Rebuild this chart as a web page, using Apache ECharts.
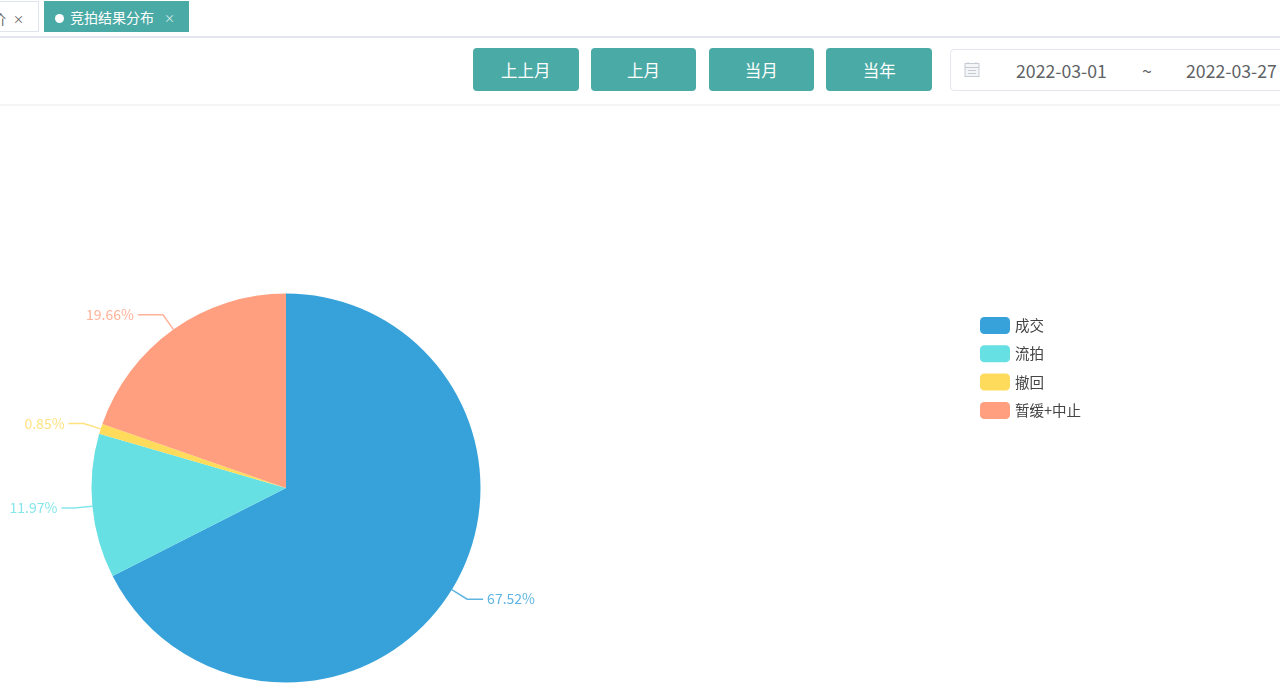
<!DOCTYPE html>
<html>
<head>
<meta charset="utf-8">
<script src="https://cdn.jsdelivr.net/npm/echarts@6/dist/echarts.min.js"></script>
<style>
html, body {margin: 0; padding: 0; width: 1280px; height: 699px; overflow: hidden; background: #fff;
    font-family: "Noto Sans CJK SC", "Noto Sans", sans-serif;}
.tab {position: absolute; top: 1px; height: 31px; line-height: 32px; font-size: 14px; box-sizing: border-box;}
.tab-old {left: -25px; width: 64px; border: 1px solid #e0e4ee; color: #666; background: #fff; padding-left: 16px;}
.tab-on {left: 44px; width: 145px; background: #4aaaa5; color: #fff; padding-left: 26px;}
.tab-on i {position: absolute; left: 11px; top: 13px; width: 9px; height: 9px; border-radius: 50%; background: #fff;}
.tab span {position: absolute; font-size: 11px; top: 1px;}
.tab-old span {left: 37px; color: #555;}
.tab-on span {left: 120px; color: #dfeeee;}
.rule1 {position: absolute; left: 0; top: 36px; width: 1280px; height: 2px; background: #e3e6ef;}
.rule2 {position: absolute; left: 0; top: 104px; width: 1280px; height: 2px; background: #f5f5f5;}
.btn {position: absolute; top: 48px; width: 105.5px; height: 42.5px; line-height: 44px; border-radius: 4px;
    background: #4aaaa5; color: #fff; font-size: 16.5px; text-align: center;}
.range {position: absolute; left: 950px; top: 49px; width: 340px; height: 42px; box-sizing: border-box;
    border: 1px solid #e4e7ed; border-radius: 4px; color: #606266; font-size: 17.7px; line-height: 40px;}
.range b {position: absolute; font-weight: normal;}
.range svg {position: absolute; left: 13px; top: 11px;}
#chart {position: absolute; left: 0; top: 106px; width: 1280px; height: 593px;}
</style>
</head>
<body>
<div class="tab tab-old">价<span>×</span></div>
<div class="tab tab-on"><i></i>竞拍结果分布<span>×</span></div>
<div class="rule1"></div>
<div id="buttons"></div>
<div class="range">
    <svg width="16" height="17" viewBox="0 0 16 17" fill="none" stroke="#c6cad3">
        <rect x="1" y="2.5" width="14" height="13" fill="#f4f5f7"/><path d="M1 6.5H15M4 1V3M12 1V3M4 9.5H12M4 12.5H12"/>
    </svg>
    <b style="left:65px">2022-03-01</b><b style="left:191px">~</b><b style="left:235px">2022-03-27</b>
</div>
<div class="rule2"></div>
<div id="chart"></div>
<script>
const categories = ['成交', '流拍', '撤回', '暂缓+中止'];
const percents = [67.52, 11.97, 0.85, 19.66];
const colors = ['#37a2da', '#67e0e3', '#ffdb5c', '#ff9f7f'];
const buttonLabels = ['上上月', '上月', '当月', '当年'];

buttonLabels.forEach((text, i) => {
    const btn = document.createElement('div');
    btn.className = 'btn';
    btn.style.left = (473 + i * 117.8) + 'px';
    btn.textContent = text;
    document.getElementById('buttons').appendChild(btn);
});

// second segment of each label line, tuned per slice
const lineTails = [16, 13, 15, 25];

const chart = echarts.init(document.getElementById('chart'));
chart.setOption({
    animation: false,
    color: colors,
    textStyle: {fontFamily: '"Noto Sans CJK SC", sans-serif'},
    legend: {
        orient: 'vertical',
        left: 975,
        top: 206,
        itemWidth: 30,
        itemHeight: 17,
        itemGap: 11.3,
        icon: 'roundRect',
        textStyle: {fontSize: 14.5, color: '#444'},
        data: categories
    },
    series: [{
        type: 'pie',
        center: [286, 382],
        radius: 194.5,
        startAngle: 90,
        label: {
            formatter: '{c}%',
            fontSize: 14,
            color: 'inherit',
            opacity: 0.8,
            overflow: 'none',
            width: 80,
            distanceToLabelLine: 4
        },
        labelLine: {length: 18, lineStyle: {opacity: 0.8, width: 1.5}},
        data: categories.map((name, i) => ({
            name: name,
            value: percents[i],
            labelLine: {length2: lineTails[i]}
        }))
    }]
});
</script>
</body>
</html>
